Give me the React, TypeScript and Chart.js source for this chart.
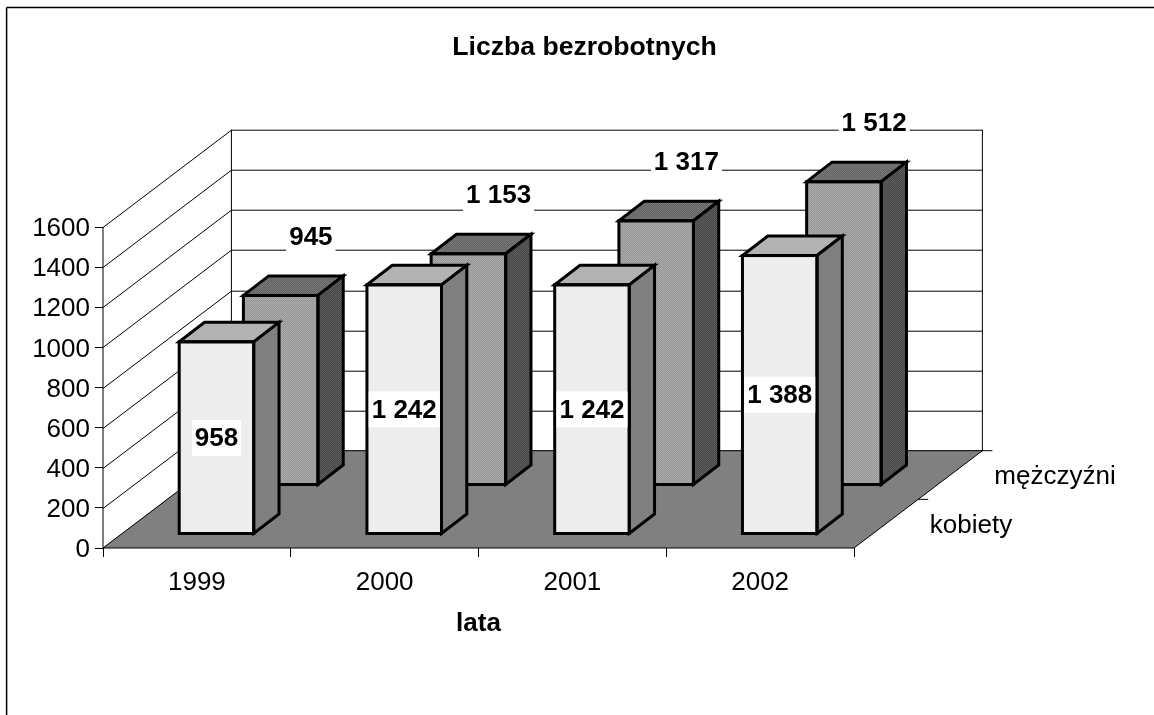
import React, { useEffect, useRef } from "react";
import { Chart, registerables } from "chart.js";

Chart.register(...registerables);

const years = ["1999", "2000", "2001", "2002"];
const kobiety = [958, 1242, 1242, 1388];
const mezczyzni = [945, 1153, 1317, 1512];
const seriesNames = ["kobiety", "mężczyźni"];
const chartTitle = "Liczba bezrobotnych";
const xTitle = "lata";

const FONT = "'Liberation Sans', Arial, sans-serif";
const WALL = { dx: 128.4, dy: -97.3 };
const BAR_DEPTH = { dx: 25.3, dy: -19.5 };
const PLANES = [
  { dx: 19.6, dy: -14 },
  { dx: 83.8, dy: -63 },
];

function dither(a: string, b: string): CanvasPattern {
  const c = document.createElement("canvas");
  c.width = 2;
  c.height = 2;
  const g = c.getContext("2d")!;
  g.fillStyle = a;
  g.fillRect(0, 0, 2, 2);
  g.fillStyle = b;
  g.fillRect(0, 0, 1, 1);
  g.fillRect(1, 1, 1, 1);
  return g.createPattern(c, "repeat")!;
}

function fmt(v: number): string {
  return String(v).replace(/\B(?=(\d{3})+$)/g, " ");
}

function line(ctx: CanvasRenderingContext2D, x0: number, y0: number, x1: number, y1: number) {
  ctx.beginPath();
  ctx.moveTo(x0, y0);
  ctx.lineTo(x1, y1);
  ctx.stroke();
}

function poly(ctx: CanvasRenderingContext2D, pts: number[][], fill: any) {
  ctx.beginPath();
  pts.forEach((p, i) => (i ? ctx.lineTo(p[0], p[1]) : ctx.moveTo(p[0], p[1])));
  ctx.closePath();
  ctx.fillStyle = fill;
  ctx.fill();
  ctx.stroke();
}

export default function App() {
  const ref = useRef<HTMLCanvasElement>(null);

  useEffect(() => {
    const faces = [
      {
        front: dither("#ffffff", "#dcdcdc"),
        top: dither("#c4c4c4", "#a2a2a2"),
        side: dither("#929292", "#6e6e6e"),
      },
      {
        front: dither("#b4b4b4", "#8e8e8e"),
        top: dither("#7e7e7e", "#5e5e5e"),
        side: dither("#626262", "#424242"),
      },
    ];

    const scene = {
      id: "scene",
      beforeDraw(chart: any) {
        const { ctx, chartArea: a, scales } = chart;
        const y = scales.y;
        ctx.save();
        ctx.fillStyle = "#ffffff";
        ctx.fillRect(0, 0, chart.width, chart.height);
        ctx.strokeStyle = "#000000";
        ctx.lineWidth = 1.5;
        line(ctx, 6.6, 7.6, chart.width, 7.6);
        line(ctx, 6.6, 7.6, 6.6, chart.height);

        ctx.lineWidth = 1;
        const bx0 = a.left + WALL.dx;
        const bx1 = a.right + WALL.dx;
        y.ticks.forEach((t: any) => {
          const py = Math.round(y.getPixelForValue(t.value)) + 0.5;
          line(ctx, a.left, py, bx0, py + WALL.dy);
          line(ctx, bx0, py + WALL.dy, bx1, py + WALL.dy);
        });
        line(ctx, a.left, a.top, a.left, a.bottom);
        line(ctx, bx0, a.top + WALL.dy, bx0, a.bottom + WALL.dy);
        line(ctx, bx1, a.top + WALL.dy, bx1, a.bottom + WALL.dy);

        poly(
          ctx,
          [
            [a.left, a.bottom],
            [a.right, a.bottom],
            [bx1, a.bottom + WALL.dy],
            [bx0, a.bottom + WALL.dy],
          ],
          "#808080"
        );
        line(ctx, bx1, a.bottom + WALL.dy, bx1 + 10, a.bottom + WALL.dy);
        const mx = a.right + WALL.dx / 2;
        const my = a.bottom + WALL.dy / 2;
        line(ctx, mx, my, mx + 10, my);

        ctx.fillStyle = "#000000";
        ctx.font = "26px " + FONT;
        ctx.textAlign = "center";
        ctx.textBaseline = "middle";
        ctx.fillText(seriesNames[0], a.right + 117, a.bottom - 22);
        ctx.fillText(seriesNames[1], a.right + 201, a.bottom - 71);
        ctx.restore();
      },
      beforeDatasetDraw(chart: any, args: any) {
        const p = PLANES[args.index];
        chart.ctx.save();
        chart.ctx.translate(p.dx, p.dy);
      },
      afterDatasetDraw(chart: any, args: any) {
        const { ctx } = chart;
        const f = faces[args.index];
        ctx.lineWidth = 3;
        ctx.strokeStyle = "#000000";
        ctx.lineJoin = "miter";
        args.meta.data.forEach((el: any) => {
          const { x, y, base, width } = el.getProps(["x", "y", "base", "width"], true);
          const l = x - width / 2;
          const r = x + width / 2;
          const d = BAR_DEPTH;
          poly(ctx, [[l, y], [r, y], [r + d.dx, y + d.dy], [l + d.dx, y + d.dy]], f.top);
          poly(ctx, [[r, y], [r + d.dx, y + d.dy], [r + d.dx, base + d.dy], [r, base]], f.side);
          ctx.strokeRect(l, y, width, base - y);
        });
        ctx.restore();
      },
      afterDatasetsDraw(chart: any) {
        const { ctx, scales } = chart;
        const { x: xs, y: ys } = scales;
        ctx.save();
        ctx.font = "bold 26px " + FONT;
        ctx.textAlign = "center";
        ctx.textBaseline = "middle";
        const label = (text: string, cx: number, cy: number) => {
          const w = ctx.measureText(text).width + 6;
          ctx.fillStyle = "#ffffff";
          ctx.fillRect(cx - w / 2, cy - 18, w, 36);
          ctx.fillStyle = "#000000";
          ctx.fillText(text, cx, cy + 1);
        };
        mezczyzni.forEach((v, i) => {
          label(fmt(v), xs.getPixelForValue(i) + 114, ys.getPixelForValue(v) - 122);
        });
        kobiety.forEach((v, i) => {
          const top = ys.getPixelForValue(v) + PLANES[0].dy;
          const base = ys.getPixelForValue(0) + PLANES[0].dy;
          label(fmt(v), xs.getPixelForValue(i) + PLANES[0].dx, (top + base) / 2);
        });
        ctx.restore();
      },
    };

    const chart = new Chart(ref.current!, {
      type: "bar",
      data: {
        labels: years,
        datasets: [
          {
            label: seriesNames[0],
            data: kobiety,
            backgroundColor: faces[0].front,
            borderWidth: 0,
            clip: false,
          },
          {
            label: seriesNames[1],
            data: mezczyzni,
            backgroundColor: faces[1].front,
            borderWidth: 0,
            clip: false,
          },
        ] as any,
      },
      options: {
        animation: false,
        responsive: false,
        devicePixelRatio: 1,
        events: [],
        layout: { padding: { left: 15, right: 0, top: 0, bottom: 0 } },
        datasets: { bar: { grouped: false, barPercentage: 0.397, categoryPercentage: 1 } },
        plugins: {
          legend: { display: false },
          tooltip: { enabled: false },
          title: {
            display: true,
            text: chartTitle,
            color: "#000000",
            font: { family: FONT, size: 26.6, weight: "bold" },
            padding: { top: 31.6, bottom: 163.5 },
          },
        },
        scales: {
          x: {
            type: "category",
            position: "bottom",
            offset: true,
            grid: {
              offset: true,
              drawOnChartArea: false,
              tickLength: 9,
              color: "#000000",
              tickColor: "#000000",
            },
            border: { display: false },
            ticks: {
              color: "#000000",
              font: { family: FONT, size: 26 },
              padding: 10,
              maxRotation: 0,
            },
            title: {
              display: true,
              text: xTitle,
              color: "#000000",
              font: { family: FONT, size: 26, weight: "bold" },
              padding: { top: 0, bottom: 76 },
            },
            afterFit(axis: any) {
              axis.height = 167;
            },
          },
          y: {
            type: "linear",
            position: "left",
            min: 0,
            max: 1600,
            grid: {
              drawOnChartArea: false,
              tickLength: 8,
              color: "#000000",
              tickColor: "#000000",
            },
            border: { display: false },
            ticks: {
              stepSize: 200,
              color: "#000000",
              font: { family: FONT, size: 26 },
              padding: 5,
              labelOffset: 2,
              callback: (v: any) => String(v),
            },
            afterFit(axis: any) {
              axis.width = 88;
            },
          },
          spacer: {
            type: "linear",
            position: "right",
            grid: { display: false },
            border: { display: false },
            ticks: { display: false },
            afterFit(axis: any) {
              axis.width = 300;
            },
          },
        },
      } as any,
      plugins: [scene],
    });
    return () => chart.destroy();
  }, []);

  return (
    <canvas
      ref={ref}
      width={1154}
      height={715}
      style={{ position: "absolute", left: 0, top: 0, display: "block" }}
    />
  );
}
